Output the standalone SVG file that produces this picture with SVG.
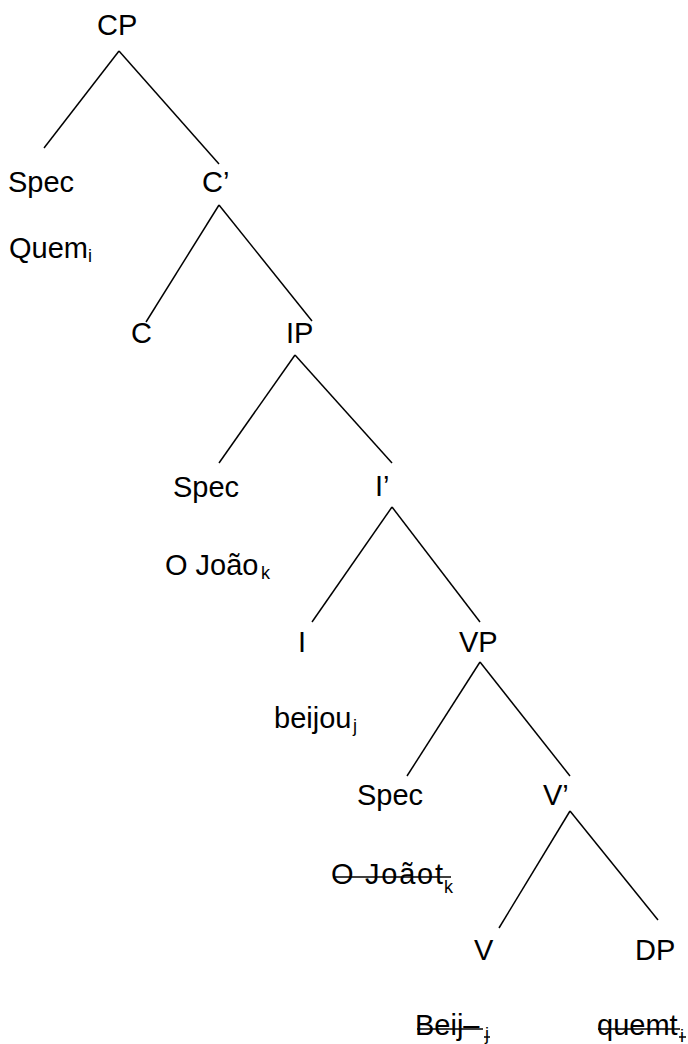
<svg xmlns="http://www.w3.org/2000/svg" width="688" height="1044" viewBox="0 0 688 1044">
  <style>
    .lbl { font-family: "Liberation Sans", Arial, sans-serif; font-size: 29px; fill: #000; }
    .sub { font-family: "Liberation Sans", Arial, sans-serif; font-size: 18px; fill: #000; }
    .edge { stroke: #000; stroke-width: 1.5; fill: none; stroke-linecap: butt; }
    .strike { stroke: #000; stroke-width: 1.5; }
  </style>
  <rect x="0" y="0" width="688" height="1044" fill="#fff"/>

  <!-- branches of the tree -->
  <g id="connectors">
    <line class="edge" x1="119" y1="51" x2="44" y2="148"/>
    <line class="edge" x1="119" y1="51" x2="219" y2="164"/>
    <line class="edge" x1="219" y1="205" x2="146" y2="322"/>
    <line class="edge" x1="219" y1="205" x2="312" y2="321"/>
    <line class="edge" x1="295" y1="355" x2="219" y2="463"/>
    <line class="edge" x1="295" y1="355" x2="392" y2="463"/>
    <line class="edge" x1="392" y1="507" x2="312" y2="622"/>
    <line class="edge" x1="392" y1="507" x2="480" y2="622"/>
    <line class="edge" x1="480" y1="662" x2="407" y2="776"/>
    <line class="edge" x1="480" y1="662" x2="570" y2="776"/>
    <line class="edge" x1="570" y1="811" x2="499" y2="928"/>
    <line class="edge" x1="570" y1="811" x2="658" y2="920"/>
  </g>

  <g id="cp"><text class="lbl" x="97" y="35">CP</text></g>
  <g id="spec-cp"><text class="lbl" x="8" y="192">Spec</text></g>
  <g id="c-bar"><text class="lbl" x="202" y="192">C’</text></g>
  <g id="quem"><text class="lbl" x="9" y="258">Quem<tspan class="sub" x="88" y="262">i</tspan></text></g>

  <g id="c-head"><text class="lbl" x="131" y="343">C</text></g>
  <g id="ip"><text class="lbl" x="286" y="343">IP</text></g>

  <g id="spec-ip"><text class="lbl" x="173" y="497">Spec</text></g>
  <g id="i-bar"><text class="lbl" x="375" y="496">I’</text></g>
  <g id="joao"><text class="lbl" x="165" y="575">O João<tspan class="sub" x="261" y="579">k</tspan></text></g>

  <g id="i-head"><text class="lbl" x="298" y="652">I</text></g>
  <g id="vp"><text class="lbl" x="459" y="652">VP</text></g>
  <g id="beijou"><text class="lbl" x="274" y="728">beijou<tspan class="sub" x="353" y="732">j</tspan></text></g>

  <g id="spec-vp"><text class="lbl" x="357" y="805">Spec</text></g>
  <g id="v-bar"><text class="lbl" x="543" y="805">V’</text></g>
  <g id="joao-trace">
    <text class="lbl" x="331" y="884" textLength="112" lengthAdjust="spacing">O Joãot</text>
    <text class="sub" x="444" y="893">k</text>
    <line class="strike" x1="333" y1="877" x2="451" y2="877"/>
  </g>

  <g id="v-head"><text class="lbl" x="474" y="960">V</text></g>
  <g id="dp"><text class="lbl" x="635" y="960">DP</text></g>
  <g id="beij-trace">
    <text class="lbl" x="415" y="1035">Beij–<tspan class="sub" x="485" y="1040">j</tspan></text>
    <line class="strike" x1="417" y1="1029" x2="483" y2="1029"/>
    <line class="strike" x1="484" y1="1037" x2="490" y2="1037"/>
  </g>
  <g id="quem-trace">
    <text class="lbl" x="597" y="1035">quemt<tspan class="sub" x="680" y="1042">i</tspan></text>
    <line class="strike" x1="598" y1="1029" x2="680" y2="1029"/>
    <line class="strike" x1="679" y1="1037" x2="686" y2="1037"/>
  </g>
</svg>
